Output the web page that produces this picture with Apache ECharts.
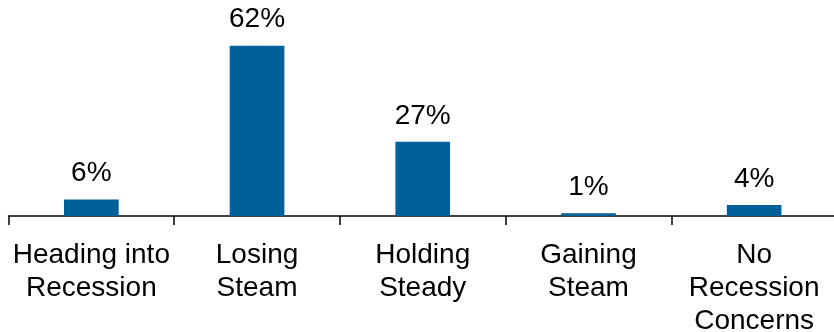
<!DOCTYPE html>
<html>
<head>
<meta charset="utf-8">
<script src="https://cdn.jsdelivr.net/npm/echarts@6/dist/echarts.min.js"></script>
<style>
  html, body { margin: 0; padding: 0; background: #fff; }
  #chart { width: 834px; height: 332px; }
</style>
</head>
<body>
<div id="chart"></div>
<script>
// Economic outlook survey: share of respondents per view
const categories = [
  'Heading into\nRecession',
  'Losing\nSteam',
  'Holding\nSteady',
  'Gaining\nSteam',
  'No\nRecession\nConcerns'
];
const shares = [6, 62, 27, 1, 4];

const FONT = 'Arial, "Liberation Sans", Helvetica, sans-serif';

const chart = echarts.init(document.getElementById('chart'), null, { renderer: 'canvas' });
chart.setOption({
  animation: false,
  backgroundColor: '#ffffff',
  grid: {
    left: 8.5, right: -3, top: 23.7, bottom: 116,
    containLabel: false,
    outerBoundsMode: 'none'
  },
  xAxis: {
    type: 'category',
    data: categories,
    boundaryGap: true,
    axisLine: { show: true, lineStyle: { color: '#000', width: 1.5 } },
    axisTick: { show: true, alignWithLabel: false, length: 9, lineStyle: { color: '#000', width: 1.5 } },
    axisLabel: {
      interval: 0,
      margin: 23,
      color: '#000',
      fontFamily: FONT,
      fontSize: 28,
      lineHeight: 33
    }
  },
  yAxis: {
    type: 'value',
    min: 0,
    max: 70,
    show: false
  },
  series: [{
    type: 'bar',
    data: shares,
    barWidth: '33%',
    itemStyle: { color: '#00609A' },
    label: {
      show: true,
      position: 'top',
      distance: 12,
      formatter: '{c}%',
      color: '#000',
      fontFamily: FONT,
      fontSize: 28
    }
  }]
});
</script>
</body>
</html>
